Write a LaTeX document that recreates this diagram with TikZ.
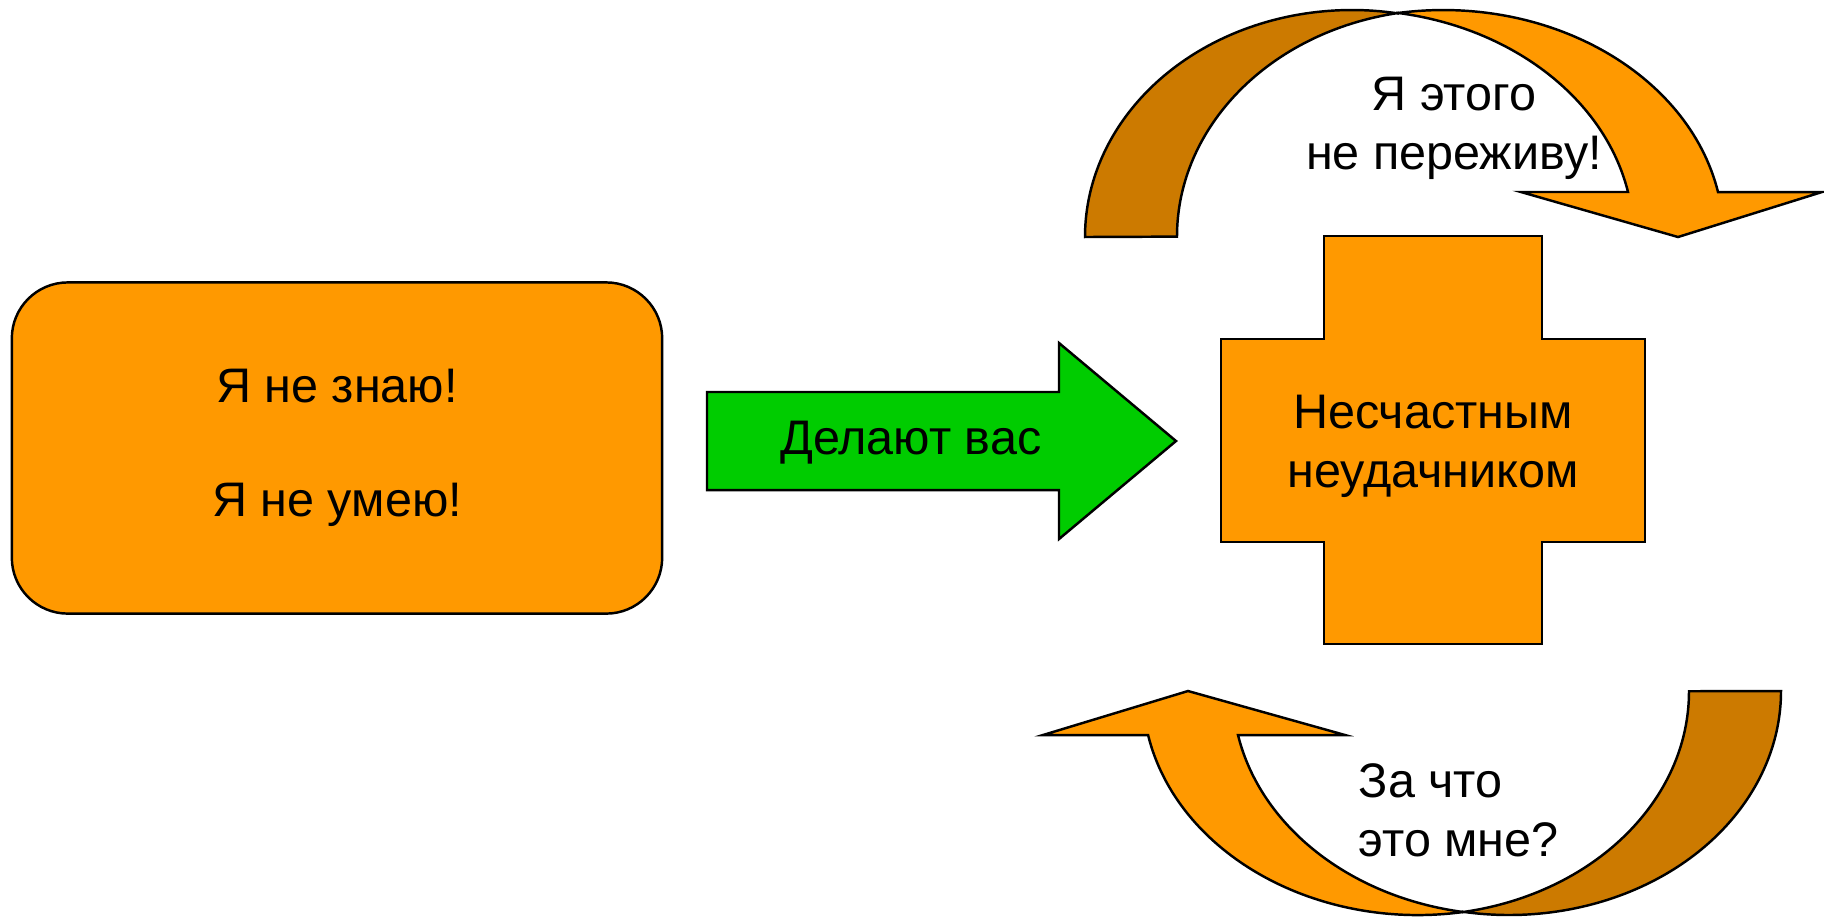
\documentclass[tikz,border=0pt]{standalone}
\usepackage{fontspec}
\setmainfont{Liberation Sans}
\definecolor{boxorange}{RGB}{255,153,0}
\definecolor{backorange}{RGB}{204,122,0}
\definecolor{arrowgreen}{RGB}{0,204,0}

\begin{document}
\begin{tikzpicture}[x=0.01cm, y=-0.01cm,
    outline/.style={draw=black, line width=0.7pt, line join=miter},
    block/.style={outline, fill=boxorange, rounded corners=0.56cm, minimum width=6.5cm, minimum height=3.31cm, align=center},
    txt/.style={font=\fontsize{13.8}{16.8}\selectfont, align=center, inner sep=0pt}]

\useasboundingbox (0,0) rectangle (1824,917);

% left box
\node[block, txt] (dontknow) at (337,448) {Я не знаю!\\[15.5pt]Я не умею!};

% green block arrow
\draw[outline, fill=arrowgreen] (707,392) -- (1059,392) -- (1059,343) -- (1176,441)
  -- (1059,539) -- (1059,490) -- (707,490) -- cycle;
\node[txt] (makes) at (911,443) {Делают вас};

% the cross
\draw[outline, fill=boxorange] (1324,236) -- (1542,236) -- (1542,339) -- (1645,339)
  -- (1645,542) -- (1542,542) -- (1542,644) -- (1324,644) -- (1324,542)
  -- (1221,542) -- (1221,339) -- (1324,339) -- cycle;
\node[txt] (loser) at (1433,446) {Несчастным\\неудачником};

% curved arrow on top
\draw[outline, fill=backorange] (1085,237) arc[start angle=180, end angle=279.92, x radius=267, y radius=227]
  -- (1398,13) arc[start angle=260.08, end angle=180, x radius=267, y radius=227] -- cycle;
\draw[outline, fill=boxorange] (1398,13) arc[start angle=260.77, end angle=348.57, x radius=280.6, y radius=227]
  -- (1822,192) -- (1678,237) -- (1521,192) -- (1628,192)
  arc[start angle=348.57, end angle=279.23, x radius=280.6, y radius=227] -- cycle;
\node[txt] (survive) at (1454,128) {Я этого\\не переживу!};

% curved arrow at the bottom
\draw[outline, fill=backorange] (1781,691) arc[start angle=0, end angle=99.74, x radius=272, y radius=224]
  -- (1463,912) arc[start angle=80.26, end angle=0, x radius=272, y radius=224] -- cycle;
\draw[outline, fill=boxorange] (1463,912) arc[start angle=80.59, end angle=168.67, x radius=275.3, y radius=224]
  -- (1043,735) -- (1188,691) -- (1345,735) -- (1238,735)
  arc[start angle=168.67, end angle=99.41, x radius=275.3, y radius=224] -- cycle;
\node[txt, anchor=west, align=left] (why) at (1358,810) {За что\\это мне?};

\end{tikzpicture}
\end{document}
